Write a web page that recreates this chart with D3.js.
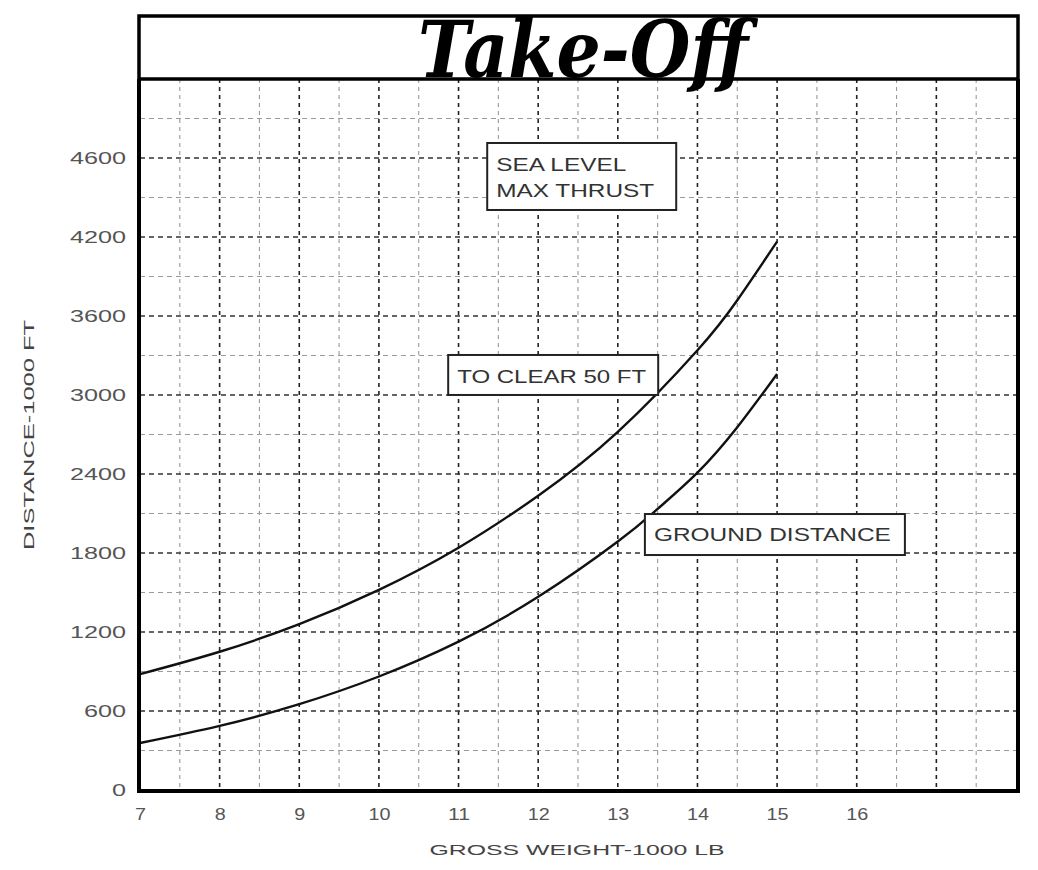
<!DOCTYPE html>
<html>
<head>
<meta charset="utf-8">
<script src="https://cdn.jsdelivr.net/npm/d3@7"></script>
<style>
  html, body { margin: 0; padding: 0; background: #fff; }
  svg { display: block; }
</style>
</head>
<body>
<svg id="chart" width="1038" height="870"></svg>
<script>
// ---------- data ----------
const title = "Take-Off";
const xTickValues = [7, 8, 9, 10, 11, 12, 13, 14, 15, 16];
const xTickLabels = ["7", "8", "9", "10", "11", "12", "13", "14", "15", "16"];
const yTickValues = [0, 600, 1200, 1800, 2400, 3000, 3600, 4200, 4800];
const yTickLabels = ["0", "600", "1200", "1800", "2400", "3000", "3600", "4200", "4600"];
const xTitle = "GROSS WEIGHT-1000 LB";
const yTitle = "DISTANCE-1000 FT";

const clearWeights = [7, 8, 9, 10, 11, 12, 13, 14, 14.5, 15];
const clear50ft = [880, 1050, 1260, 1520, 1840, 2235, 2720, 3340, 3720, 4165];
const groundWeights = [7, 8, 9, 10, 11, 12, 13, 13.5, 14, 14.5, 15];
const groundDist = [357, 487, 652, 862, 1127, 1467, 1887, 2135, 2410, 2755, 3160];

const noteTexts = [["SEA LEVEL", "MAX THRUST"], ["TO CLEAR 50 FT"], ["GROUND DISTANCE"]];

// ---------- layout ----------
const svg = d3.select("#chart");
const X0 = 140, X1 = 1016, Y0 = 790, Y1 = 79;
const x = d3.scaleLinear().domain([7, 18]).range([X0, X1]);
const y = d3.scaleLinear().domain([0, 5400]).range([Y0, Y1]);

// note box placement (data coordinates of top-left corner, pixel sizes)
const noteLayout = [
  { x: 11.36, y: 4914, w: 189, h: 67, tl: [130, 158], base: [28, 54] },
  { x: 10.87, y: 3304, w: 210, h: 40, tl: [189], base: [28] },
  { x: 13.34, y: 2096, w: 260, h: 41, tl: [237], base: [27] }
];

svg.append("rect").attr("width", 1038).attr("height", 870).attr("fill", "#fff");

// ---------- grid ----------
const g = svg.append("g");
const vLines = d3.range(7.5, 18, 0.5);
g.selectAll("line.v").data(vLines).join("line")
  .attr("x1", d => x(d)).attr("x2", d => x(d))
  .attr("y1", Y1).attr("y2", Y0)
  .attr("stroke", d => Number.isInteger(d) ? "#222" : "#9a9a9a")
  .attr("stroke-width", d => Number.isInteger(d) ? 1.6 : 1.1)
  .attr("stroke-dasharray", "4,4");
const hLines = d3.range(300, 5400, 300);
g.selectAll("line.h").data(hLines).join("line")
  .attr("x1", X0).attr("x2", X1)
  .attr("y1", d => y(d)).attr("y2", d => y(d))
  .attr("stroke", d => d % 600 === 0 ? "#333" : "#9a9a9a")
  .attr("stroke-width", d => d % 600 === 0 ? 1.5 : 1.1)
  .attr("stroke-dasharray", "5,4");

// ---------- curves ----------
const line = d3.line().curve(d3.curveNatural);
svg.append("path")
  .attr("d", line(clearWeights.map((w, i) => [x(w), y(clear50ft[i])])))
  .attr("fill", "none").attr("stroke", "#111").attr("stroke-width", 2.4);
svg.append("path")
  .attr("d", line(groundWeights.map((w, i) => [x(w), y(groundDist[i])])))
  .attr("fill", "none").attr("stroke", "#111").attr("stroke-width", 2.4);

// ---------- note boxes ----------
noteTexts.forEach((lines, k) => {
  const n = noteLayout[k];
  const bx = x(n.x), by = y(n.y);
  const gg = svg.append("g");
  gg.append("rect").attr("x", bx).attr("y", by).attr("width", n.w).attr("height", n.h)
    .attr("fill", "#fff").attr("stroke", "#222").attr("stroke-width", 2);
  lines.forEach((t, i) => {
    gg.append("text")
      .attr("x", bx + 9)
      .attr("y", by + n.base[i])
      .attr("font-family", "Liberation Sans, Arial, sans-serif")
      .attr("font-size", 18)
      .attr("fill", "#333")
      .attr("textLength", n.tl[i])
      .attr("lengthAdjust", "spacingAndGlyphs")
      .text(t);
  });
});

// ---------- axes ----------
const xAxis = d3.axisBottom(x).tickValues(xTickValues).tickSize(0).tickPadding(0)
  .tickFormat((d, i) => xTickLabels[i]);
const xa = svg.append("g").attr("transform", `translate(0,${Y0})`).call(xAxis);
xa.select(".domain").remove();
xa.selectAll("text")
  .attr("y", 30).attr("dy", null)
  .attr("font-family", "Liberation Sans, Arial, sans-serif")
  .attr("font-size", 16).attr("fill", "#555")
  .attr("textLength", (d, i) => xTickLabels[i].length * 11)
  .attr("lengthAdjust", "spacingAndGlyphs");

const yAxis = d3.axisLeft(y).tickValues(yTickValues).tickSize(0).tickPadding(0)
  .tickFormat((d, i) => yTickLabels[i]);
const ya = svg.append("g").attr("transform", `translate(${126},0)`).call(yAxis);
ya.select(".domain").remove();
ya.selectAll("text")
  .attr("x", 0).attr("dy", "0.36em")
  .attr("font-family", "Liberation Sans, Arial, sans-serif")
  .attr("font-size", 16).attr("fill", "#555")
  .attr("textLength", (d, i) => yTickLabels[i].length * 14)
  .attr("lengthAdjust", "spacingAndGlyphs");

// axis titles
svg.append("text")
  .attr("x", 577).attr("y", 855).attr("text-anchor", "middle")
  .attr("font-family", "Liberation Sans, Arial, sans-serif")
  .attr("font-size", 15).attr("fill", "#444")
  .attr("textLength", 295).attr("lengthAdjust", "spacingAndGlyphs")
  .text(xTitle);
svg.append("text")
  .attr("transform", "translate(34,435) rotate(-90)")
  .attr("text-anchor", "middle")
  .attr("font-family", "Liberation Sans, Arial, sans-serif")
  .attr("font-size", 15).attr("fill", "#444")
  .attr("textLength", 230).attr("lengthAdjust", "spacingAndGlyphs")
  .text(yTitle);

// ---------- frame ----------
svg.append("path")
  .attr("d", `M${X0 - 1},${Y1} V${Y0 + 1} H${X1 + 2} V${Y1}`)
  .attr("fill", "none").attr("stroke", "#000").attr("stroke-width", 4);
// title box
svg.append("rect").attr("x", X0 - 1).attr("y", 16).attr("width", X1 - X0 + 3).attr("height", Y1 - 16)
  .attr("fill", "#fff").attr("stroke", "#000").attr("stroke-width", 3.5);
svg.append("text")
  .attr("x", 583).attr("y", 77).attr("text-anchor", "middle")
  .attr("font-family", "DejaVu Serif, Liberation Serif, serif")
  .attr("font-style", "italic").attr("font-weight", "bold")
  .attr("font-size", 78).attr("fill", "#000")
  .attr("textLength", 330).attr("lengthAdjust", "spacingAndGlyphs")
  .text(title);
</script>
</body>
</html>
